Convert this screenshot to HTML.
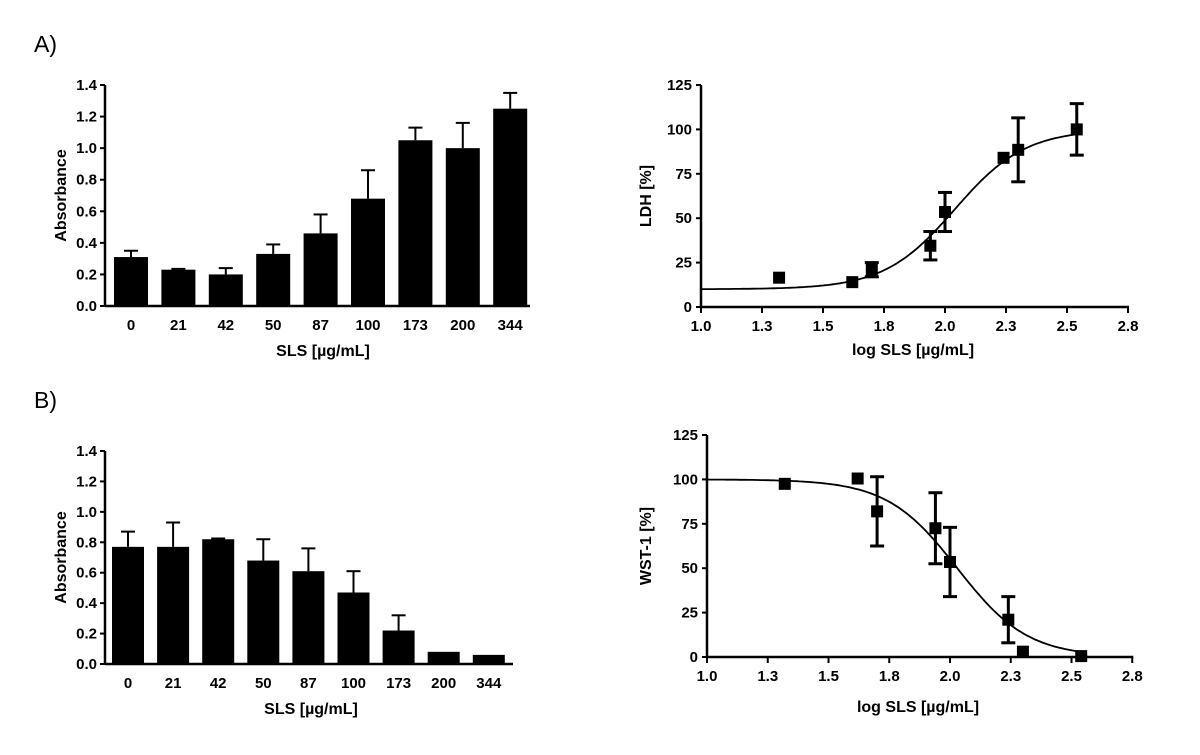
<!DOCTYPE html>
<html><head><meta charset="utf-8"><style>
body{margin:0;background:#fff;}
svg{display:block;font-family:"Liberation Sans",Arial,sans-serif;}
.t{font-size:15px;font-weight:bold;}
.at{font-size:16px;font-weight:bold;}
</style></head><body>
<svg id="s" width="1200" height="755">
<text x="34" y="52" font-size="23">A)</text>
<text x="34" y="408" font-size="23">B)</text>
</svg>
<script>
const cats=["0","21","42","50","87","100","173","200","344"];
const absA=[0.31,0.23,0.20,0.33,0.46,0.68,1.05,1.00,1.25];
const errA=[0.04,0.005,0.04,0.06,0.12,0.18,0.08,0.16,0.10];
const absB=[0.77,0.77,0.82,0.68,0.61,0.47,0.22,0.08,0.06];
const errB=[0.10,0.16,0.005,0.14,0.15,0.14,0.10,0,0];
const barTicks=[0,0.2,0.4,0.6,0.8,1.0,1.2,1.4];
const logX=[1.32,1.62,1.70,1.94,2.00,2.24,2.30,2.54];
const ldh=[16.5,14,21,34.5,53.5,84,88.5,100];
const ldhErr=[0,0,4,8,11,0,18,14.5];
const wst=[97.5,100.5,82,72.5,53.5,21,3,0.5];
const wstErr=[0,0,19.5,20,19.5,13,0,0];
const pctTicks=[0,25,50,75,100,125];
const logTicks=[1.0,1.25,1.5,1.75,2.0,2.25,2.5,2.75];
const logTickLabels=["1.0","1.3","1.5","1.8","2.0","2.3","2.5","2.8"];
const ldhFit={bottom:10,top:100,ec50:2.04,hill:3};
const wstFit={bottom:0,top:100,ec50:2.03,hill:-3};

const S=document.getElementById('s');const NS='http://www.w3.org/2000/svg';
function mk(t,a,txt){const e=document.createElementNS(NS,t);for(const k in a)e.setAttribute(k,a[k]);if(txt!==undefined)e.textContent=txt;S.appendChild(e);return e;}

function barChart(p,vals,errs,tag){
  const y=v=>p.y0-(v/1.4)*(p.y0-p.y1);
  let e=mk('line',{x1:p.ax,y1:p.y1,x2:p.ax,y2:p.y0+1,stroke:'#000','stroke-width':2.5});
  
  e=mk('line',{x1:p.ax,y1:p.y0,x2:p.xend,y2:p.y0,stroke:'#000','stroke-width':2.5});
  
  barTicks.forEach(t=>{
    mk('line',{x1:p.ax-5,y1:y(t),x2:p.ax,y2:y(t),stroke:'#000','stroke-width':2});
    e=mk('text',{x:p.ax-8,y:y(t)+5,'text-anchor':'end',class:'t'},t.toFixed(1));
    
  });
  vals.forEach((v,i)=>{
    const x=p.bx+i*p.sp,cx=x+p.bw/2;
    if(errs[i]>0){
      const ey=y(v+errs[i]);
      let l=mk('line',{x1:cx,y1:y(v),x2:cx,y2:ey,stroke:'#000','stroke-width':2});
      
      mk('line',{x1:cx-7,y1:ey,x2:cx+7,y2:ey,stroke:'#000','stroke-width':2});
    }
    const r=mk('rect',{x:x,y:y(v),width:p.bw,height:p.y0-y(v),fill:'#000'});
    
    const t=mk('text',{x:cx,y:p.y0+24,'text-anchor':'middle',class:'t'},cats[i]);
    
  });
  e=mk('text',{x:p.xt,y:p.y0+50,'text-anchor':'middle',class:'at'},'SLS [µg/mL]');
  
  const my=(p.y0+p.y1)/2;
  e=mk('text',{x:66,y:my,'text-anchor':'middle',class:'at',transform:'rotate(-90 66 '+my+')'},'Absorbance');
  
}
function curveChart(p,ys,errs,fit,yl,tag){
  const x=v=>p.ax+(v-1)*p.k;
  const y=v=>p.y0-(v/125)*(p.y0-p.y1);
  let e=mk('line',{x1:p.ax,y1:p.y1,x2:p.ax,y2:p.y0+1,stroke:'#000','stroke-width':2.5});
  
  e=mk('line',{x1:p.ax,y1:p.y0,x2:x(2.75)+1,y2:p.y0,stroke:'#000','stroke-width':2.5});
  
  pctTicks.forEach(t=>{
    mk('line',{x1:p.ax-5,y1:y(t),x2:p.ax,y2:y(t),stroke:'#000','stroke-width':2});
    e=mk('text',{x:p.ax-9,y:y(t)+5,'text-anchor':'end',class:'t'},String(t));
    
  });
  logTicks.forEach((t,i)=>{
    mk('line',{x1:x(t),y1:p.y0,x2:x(t),y2:p.y0+6,stroke:'#000','stroke-width':2});
    e=mk('text',{x:x(t),y:p.y0+24,'text-anchor':'middle',class:'t'},logTickLabels[i]);
    
  });
  let d='';
  for(let v=1;v<=2.54;v+=0.01){
    const f=fit.bottom+(fit.top-fit.bottom)/(1+Math.pow(10,(fit.ec50-v)*fit.hill));
    d+=(d?'L':'M')+x(v).toFixed(1)+' '+y(f).toFixed(1);
  }
  e=mk('path',{d:d,fill:'none',stroke:'#000','stroke-width':1.8});
  
  logX.forEach((lx,i)=>{
    const cx=x(lx),cy=y(ys[i]);
    if(errs[i]>0){
      const a=y(ys[i]+errs[i]),b=y(ys[i]-errs[i]);
      let l=mk('line',{x1:cx,y1:a,x2:cx,y2:b,stroke:'#000','stroke-width':3});
      
      mk('line',{x1:cx-7,y1:a,x2:cx+7,y2:a,stroke:'#000','stroke-width':3});
      mk('line',{x1:cx-7,y1:b,x2:cx+7,y2:b,stroke:'#000','stroke-width':3});
    }
    const r=mk('rect',{x:cx-6,y:cy-6,width:12,height:12,fill:'#000'});
    
  });
  e=mk('text',{x:p.xt,y:p.xty,'text-anchor':'middle',class:'at'},'log SLS [µg/mL]');
  
  const my=(p.y0+p.y1)/2;
  e=mk('text',{x:p.ytx,y:my,'text-anchor':'middle',class:'at',transform:'rotate(-90 '+p.ytx+' '+my+')'},yl);
  
}
barChart({ax:105,y0:306,y1:85,bx:114,sp:47.4,bw:34,xend:530,xt:323},absA,errA,'a-absorbance');
barChart({ax:105,y0:664,y1:451,bx:112,sp:45.1,bw:32,xend:513,xt:311},absB,errB,'b-absorbance');
curveChart({ax:701,y0:307,y1:85,k:244,xt:913,xty:355,ytx:651},ldh,ldhErr,ldhFit,'LDH [%]','a-ldh');
curveChart({ax:707,y0:657,y1:435,k:243,xt:918,xty:712,ytx:651},wst,wstErr,wstFit,'WST-1 [%]','b-wst1');
</script>
</body></html>
